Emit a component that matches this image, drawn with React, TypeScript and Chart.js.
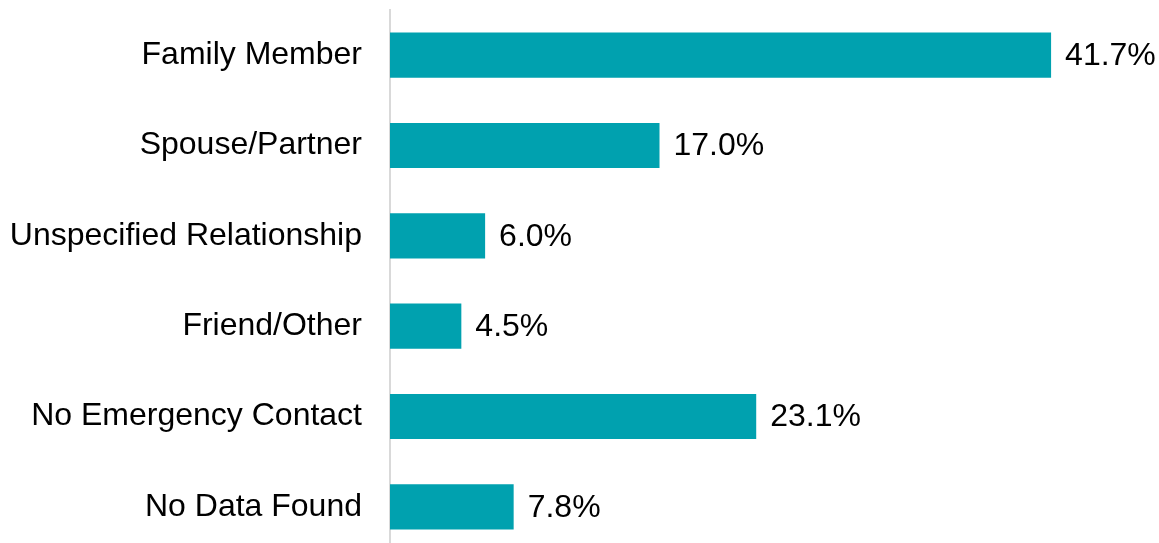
import React, { useEffect, useRef } from "react";
import { Chart, registerables } from "chart.js";

Chart.register(...registerables);

const categories = [
  "Family Member",
  "Spouse/Partner",
  "Unspecified Relationship",
  "Friend/Other",
  "No Emergency Contact",
  "No Data Found",
];
const values = [41.7, 17.0, 6.0, 4.5, 23.1, 7.8];
const valueLabels = ["41.7%", "17.0%", "6.0%", "4.5%", "23.1%", "7.8%"];

const FONT = "'Liberation Sans', Arial, sans-serif";

const valueLabelPlugin = {
  id: "valueLabels",
  afterDatasetsDraw(chart: any) {
    const ctx = chart.ctx;
    const meta = chart.getDatasetMeta(0);
    ctx.save();
    ctx.font = `32px ${FONT}`;
    ctx.fillStyle = "#000000";
    ctx.textAlign = "left";
    ctx.textBaseline = "middle";
    meta.data.forEach((bar: any, i: number) => {
      ctx.fillText(valueLabels[i], bar.x + 14, bar.y + 1);
    });
    ctx.restore();
  },
};

export default function App() {
  const ref = useRef<HTMLCanvasElement>(null);
  useEffect(() => {
    if (!ref.current) return;
    const chart = new Chart(ref.current, {
      type: "bar",
      data: {
        labels: categories,
        datasets: [
          {
            data: values,
            backgroundColor: "#00A1AF",
            barPercentage: 0.5,
            categoryPercentage: 1,
          },
        ],
      },
      options: {
        indexAxis: "y",
        responsive: false,
        animation: false,
        devicePixelRatio: 1,
        layout: { padding: { top: 10, right: 12, bottom: 0, left: 0 } },
        plugins: {
          legend: { display: false },
          tooltip: { enabled: false },
        },
        scales: {
          x: {
            display: false,
            min: 0,
            max: 47.75,
          },
          y: {
            grid: { display: false, drawTicks: false },
            border: { display: true, color: "#d9d9d9", width: 2 },
            ticks: {
              color: "#000000",
              font: { family: FONT, size: 32 },
              padding: 28,
            },
            afterFit(scale: any) {
              scale.width = 390;
              scale.paddingTop = 0;
              scale.paddingBottom = 0;
            },
          },
        },
      },
      plugins: [valueLabelPlugin],
    });
    return () => chart.destroy();
  }, []);
  return (
    <canvas
      ref={ref}
      width={1159}
      height={552}
      style={{ position: "absolute", left: 0, top: 0, display: "block", width: 1159, height: 552 }}
    />
  );
}
